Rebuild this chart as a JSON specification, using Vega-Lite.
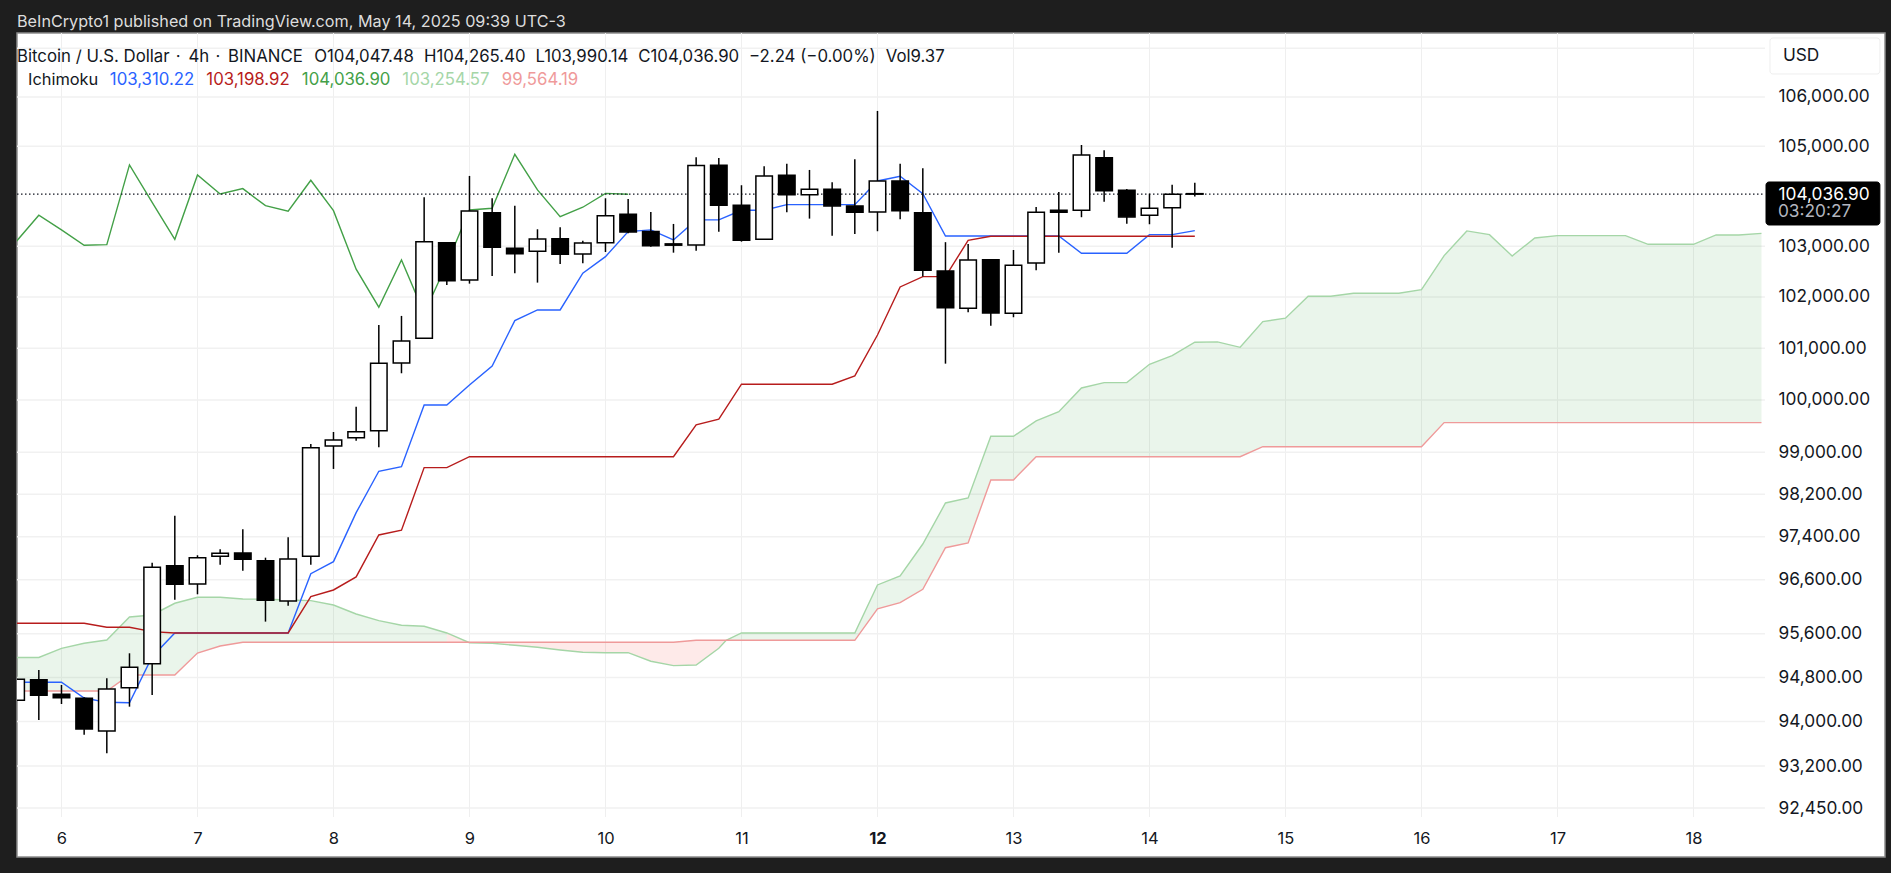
{
"$schema":"https://vega.github.io/schema/vega-lite/v6.json",
"width":1868,"height":824,
"autosize":"none",
"padding":{"left":17,"top":33,"right":6,"bottom":16},
"background":"#1e1e1e",
"title":{"text":"BeInCrypto1 published on TradingView.com, May 14, 2025 09:39 UTC-3","subtitle":"\u2003Bitcoin / U.S. Dollar\u200a · \u200a\u200a4h\u200a · \u200a\u200aBINANCE\u2002\u200a\u200aO104,047.48\u2002\u200aH104,265.40\u2002\u200aL103,990.14\u2002\u200aC104,036.90\u2002\u200a−2.24 (−0.00%)\u2002\u200aVol9.37","anchor":"start","frame":"group","font":"Inter","subtitleFont":"Inter","fontSize":16.2,"subtitleFontSize":16.8,"fontWeight":"normal","color":"#dddddd","subtitleColor":"#131722","offset":-33,"subtitlePadding":19},
"config":{"view":{"fill":"#ffffff","stroke":"#8c8c8c","strokeWidth":1.5},"font":"Inter"},
"datasets":{
"bars":[
{"t":"2025-05-05T16:00Z","o":94385,"h":94790,"l":94370,"c":94768,"tenkan":94713,"kijun":95795,"chikou":103091,"spanA":95166,"spanB":94555},
{"t":"2025-05-05T20:00Z","o":94761,"h":94938,"l":94029,"c":94476,"tenkan":94713,"kijun":95795,"chikou":103616,"spanA":95166,"spanB":94555},
{"t":"2025-05-06T00:00Z","o":94494,"h":94664,"l":94318,"c":94432,"tenkan":94713,"kijun":95795,"chikou":103324,"spanA":95334,"spanB":94555},
{"t":"2025-05-06T04:00Z","o":94421,"h":94440,"l":93764,"c":93866,"tenkan":94427,"kijun":95795,"chikou":103019,"spanA":95426,"spanB":94555},
{"t":"2025-05-06T08:00Z","o":93830,"h":94786,"l":93428,"c":94591,"tenkan":94349,"kijun":95721,"chikou":103031,"spanA":95487,"spanB":94555},
{"t":"2025-05-06T12:00Z","o":94615,"h":95243,"l":94270,"c":94987,"tenkan":94342,"kijun":95721,"chikou":104624,"spanA":95911,"spanB":94847},
{"t":"2025-05-06T16:00Z","o":95053,"h":96918,"l":94481,"c":96832,"tenkan":95181,"kijun":95640,"chikou":103875,"spanA":95948,"spanB":94847},
{"t":"2025-05-06T20:00Z","o":96862,"h":97798,"l":96230,"c":96516,"tenkan":95616,"kijun":95616,"chikou":103138,"spanA":96164,"spanB":94847},
{"t":"2025-05-07T00:00Z","o":96522,"h":97056,"l":96330,"c":97011,"tenkan":95616,"kijun":95616,"chikou":104423,"spanA":96274,"spanB":95248},
{"t":"2025-05-07T04:00Z","o":97037,"h":97167,"l":96881,"c":97093,"tenkan":95616,"kijun":95616,"chikou":104041,"spanA":96274,"spanB":95376},
{"t":"2025-05-07T08:00Z","o":97098,"h":97541,"l":96769,"c":96981,"tenkan":95616,"kijun":95616,"chikou":104148,"spanA":96243,"spanB":95445},
{"t":"2025-05-07T12:00Z","o":96955,"h":97011,"l":95825,"c":96219,"tenkan":95616,"kijun":95616,"chikou":103808,"spanA":96238,"spanB":95445},
{"t":"2025-05-07T16:00Z","o":96206,"h":97394,"l":96120,"c":96987,"tenkan":95616,"kijun":95616,"chikou":103696,"spanA":96225,"spanB":95445},
{"t":"2025-05-07T20:00Z","o":97037,"h":99156,"l":96881,"c":99085,"tenkan":96713,"kijun":96286,"chikou":104316,"spanA":96212,"spanB":95445},
{"t":"2025-05-08T00:00Z","o":99117,"h":99385,"l":98681,"c":99232,"tenkan":96937,"kijun":96410,"chikou":103708,"spanA":96132,"spanB":95445},
{"t":"2025-05-08T04:00Z","o":99276,"h":99870,"l":99218,"c":99391,"tenkan":97855,"kijun":96652,"chikou":102546,"spanA":95966,"spanB":95445},
{"t":"2025-05-08T08:00Z","o":99410,"h":101453,"l":99092,"c":100708,"tenkan":98637,"kijun":97436,"chikou":101799,"spanA":95843,"spanB":95445},
{"t":"2025-05-08T12:00Z","o":100714,"h":101629,"l":100514,"c":101140,"tenkan":98724,"kijun":97524,"chikou":102729,"spanA":95758,"spanB":95445},
{"t":"2025-05-08T16:00Z","o":101193,"h":103975,"l":101193,"c":103091,"tenkan":99903,"kijun":98706,"chikou":101681,"spanA":95740,"spanB":95445},
{"t":"2025-05-08T20:00Z","o":103071,"h":103071,"l":102236,"c":102321,"tenkan":99903,"kijun":98706,"chikou":102650,"spanA":95616,"spanB":95445},
{"t":"2025-05-09T00:00Z","o":102335,"h":104403,"l":102262,"c":103702,"tenkan":100288,"kijun":98914,"chikou":103722,"spanA":95437,"spanB":95445},
{"t":"2025-05-09T04:00Z","o":103668,"h":103955,"l":102414,"c":102979,"tenkan":100655,"kijun":98914,"chikou":103756,"spanA":95426,"spanB":95445},
{"t":"2025-05-09T08:00Z","o":102959,"h":103808,"l":102467,"c":102853,"tenkan":101537,"kijun":98914,"chikou":104838,"spanA":95390,"spanB":95445},
{"t":"2025-05-09T12:00Z","o":102900,"h":103337,"l":102282,"c":103144,"tenkan":101746,"kijun":98914,"chikou":104122,"spanA":95353,"spanB":95445},
{"t":"2025-05-09T16:00Z","o":103150,"h":103377,"l":102650,"c":102841,"tenkan":101746,"kijun":98914,"chikou":103589,"spanA":95303,"spanB":95445},
{"t":"2025-05-09T20:00Z","o":102847,"h":103110,"l":102664,"c":103064,"tenkan":102467,"kijun":98914,"chikou":103776,"spanA":95261,"spanB":95445},
{"t":"2025-05-10T00:00Z","o":103070,"h":103955,"l":102886,"c":103608,"tenkan":102794,"kijun":98914,"chikou":104052,"spanA":95254,"spanB":95445},
{"t":"2025-05-10T04:00Z","o":103636,"h":103941,"l":103258,"c":103284,"tenkan":103290,"kijun":98914,"chikou":104036.9,"spanA":95254,"spanB":95445},
{"t":"2025-05-10T08:00Z","o":103294,"h":103682,"l":102991,"c":103008,"tenkan":103324,"kijun":98914,"spanA":95097,"spanB":95445},
{"t":"2025-05-10T12:00Z","o":103047,"h":103443,"l":102873,"c":103021,"tenkan":103125,"kijun":98914,"spanA":95017,"spanB":95445},
{"t":"2025-05-10T16:00Z","o":103027,"h":104778,"l":102912,"c":104610,"tenkan":103523,"kijun":99520,"spanA":95029,"spanB":95481},
{"t":"2025-05-10T20:00Z","o":104618,"h":104764,"l":103290,"c":103816,"tenkan":103523,"kijun":99629,"spanA":95335,"spanB":95481},
{"t":"2025-05-10T21:18Z","spanA":95481,"spanB":95481},
{"t":"2025-05-11T00:00Z","o":103816,"h":104216,"l":103091,"c":103118,"tenkan":103716,"kijun":100302,"spanA":95616,"spanB":95481},
{"t":"2025-05-11T04:00Z","o":103138,"h":104597,"l":103138,"c":104403,"tenkan":103716,"kijun":100302,"spanA":95616,"spanB":95481},
{"t":"2025-05-11T08:00Z","o":104417,"h":104650,"l":103676,"c":104027,"tenkan":103828,"kijun":100302,"spanA":95616,"spanB":95481},
{"t":"2025-05-11T12:00Z","o":104027,"h":104523,"l":103549,"c":104136,"tenkan":103828,"kijun":100302,"spanA":95616,"spanB":95481},
{"t":"2025-05-11T16:00Z","o":104136,"h":104276,"l":103210,"c":103802,"tenkan":103828,"kijun":100302,"spanA":95616,"spanB":95481},
{"t":"2025-05-11T20:00Z","o":103802,"h":104738,"l":103244,"c":103676,"tenkan":103828,"kijun":100463,"spanA":95616,"spanB":95481},
{"t":"2025-05-12T00:00Z","o":103682,"h":105716,"l":103298,"c":104302,"tenkan":104302,"kijun":101257,"spanA":96503,"spanB":96059},
{"t":"2025-05-12T04:00Z","o":104302,"h":104650,"l":103537,"c":103708,"tenkan":104397,"kijun":102197,"spanA":96671,"spanB":96175},
{"t":"2025-05-12T08:00Z","o":103668,"h":104557,"l":102400,"c":102526,"tenkan":104047,"kijun":102400,"spanA":97266,"spanB":96423},
{"t":"2025-05-12T12:00Z","o":102512,"h":103081,"l":100700,"c":101791,"tenkan":103204,"kijun":102400,"spanA":98037,"spanB":97197},
{"t":"2025-05-12T16:00Z","o":101779,"h":103047,"l":101701,"c":102729,"tenkan":103204,"kijun":103118,"spanA":98131,"spanB":97285},
{"t":"2025-05-12T20:00Z","o":102735,"h":102735,"l":101439,"c":101687,"tenkan":103204,"kijun":103199,"spanA":99303,"spanB":98472},
{"t":"2025-05-13T00:00Z","o":101681,"h":102926,"l":101603,"c":102624,"tenkan":103204,"kijun":103199,"spanA":99303,"spanB":98472},
{"t":"2025-05-13T04:00Z","o":102670,"h":103782,"l":102526,"c":103676,"tenkan":103204,"kijun":103199,"spanA":99596,"spanB":98914},
{"t":"2025-05-13T08:00Z","o":103716,"h":104079,"l":102873,"c":103676,"tenkan":103204,"kijun":103199,"spanA":99774,"spanB":98914},
{"t":"2025-05-13T12:00Z","o":103716,"h":105026,"l":103577,"c":104824,"tenkan":102861,"kijun":103199,"spanA":100230,"spanB":98914},
{"t":"2025-05-13T16:00Z","o":104770,"h":104919,"l":103887,"c":104108,"tenkan":102861,"kijun":103199,"spanA":100333,"spanB":98914},
{"t":"2025-05-13T20:00Z","o":104116,"h":104142,"l":103449,"c":103583,"tenkan":102861,"kijun":103199,"spanA":100333,"spanB":98914},
{"t":"2025-05-14T00:00Z","o":103616,"h":104047,"l":103437,"c":103756,"tenkan":103230,"kijun":103199,"spanA":100688,"spanB":98914},
{"t":"2025-05-14T04:00Z","o":103768,"h":104228,"l":102971,"c":104035,"tenkan":103230,"kijun":103199,"spanA":100855,"spanB":98914},
{"t":"2025-05-14T08:00Z","o":104047.48,"h":104265.4,"l":103990.14,"c":104036.9,"tenkan":103310.22,"kijun":103198.92,"spanA":101116,"spanB":98914},
{"t":"2025-05-14T12:00Z","spanA":101122,"spanB":98914},
{"t":"2025-05-14T16:00Z","spanA":101017,"spanB":98914},
{"t":"2025-05-14T20:00Z","spanA":101517,"spanB":99104},
{"t":"2025-05-15T00:00Z","spanA":101584,"spanB":99104},
{"t":"2025-05-15T04:00Z","spanA":102014,"spanB":99104},
{"t":"2025-05-15T08:00Z","spanA":102014,"spanB":99104},
{"t":"2025-05-15T12:00Z","spanA":102073,"spanB":99104},
{"t":"2025-05-15T16:00Z","spanA":102073,"spanB":99104},
{"t":"2025-05-15T20:00Z","spanA":102073,"spanB":99104},
{"t":"2025-05-16T00:00Z","spanA":102144,"spanB":99104},
{"t":"2025-05-16T04:00Z","spanA":102814,"spanB":99564},
{"t":"2025-05-16T08:00Z","spanA":103304,"spanB":99564},
{"t":"2025-05-16T12:00Z","spanA":103230,"spanB":99564},
{"t":"2025-05-16T16:00Z","spanA":102808,"spanB":99564},
{"t":"2025-05-16T20:00Z","spanA":103164,"spanB":99564},
{"t":"2025-05-17T00:00Z","spanA":103210,"spanB":99564},
{"t":"2025-05-17T04:00Z","spanA":103210,"spanB":99564},
{"t":"2025-05-17T08:00Z","spanA":103210,"spanB":99564},
{"t":"2025-05-17T12:00Z","spanA":103210,"spanB":99564},
{"t":"2025-05-17T16:00Z","spanA":103039,"spanB":99564},
{"t":"2025-05-17T20:00Z","spanA":103039,"spanB":99564},
{"t":"2025-05-18T00:00Z","spanA":103039,"spanB":99564},
{"t":"2025-05-18T04:00Z","spanA":103224,"spanB":99564},
{"t":"2025-05-18T08:00Z","spanA":103224,"spanB":99564},
{"t":"2025-05-18T12:00Z","spanA":103254.57,"spanB":99564.19}
],
"days":[{"t":"2025-05-06T00:00Z"},{"t":"2025-05-07T00:00Z"},{"t":"2025-05-08T00:00Z"},{"t":"2025-05-09T00:00Z"},{"t":"2025-05-10T00:00Z"},{"t":"2025-05-11T00:00Z"},{"t":"2025-05-12T00:00Z"},{"t":"2025-05-13T00:00Z"},{"t":"2025-05-14T00:00Z"},{"t":"2025-05-15T00:00Z"},{"t":"2025-05-16T00:00Z"},{"t":"2025-05-17T00:00Z"},{"t":"2025-05-18T00:00Z"}],
"levels":[
{"price":107000,"t":"2025-05-05T16:09Z","t2":"2025-05-18T12:37Z"},
{"price":106000,"t":"2025-05-05T16:09Z","t2":"2025-05-18T12:37Z"},
{"price":105000,"t":"2025-05-05T16:09Z","t2":"2025-05-18T12:37Z"},
{"price":103000,"t":"2025-05-05T16:09Z","t2":"2025-05-18T12:37Z"},
{"price":102000,"t":"2025-05-05T16:09Z","t2":"2025-05-18T12:37Z"},
{"price":101000,"t":"2025-05-05T16:09Z","t2":"2025-05-18T12:37Z"},
{"price":100000,"t":"2025-05-05T16:09Z","t2":"2025-05-18T12:37Z"},
{"price":99000,"t":"2025-05-05T16:09Z","t2":"2025-05-18T12:37Z"},
{"price":98200,"t":"2025-05-05T16:09Z","t2":"2025-05-18T12:37Z"},
{"price":97400,"t":"2025-05-05T16:09Z","t2":"2025-05-18T12:37Z"},
{"price":96600,"t":"2025-05-05T16:09Z","t2":"2025-05-18T12:37Z"},
{"price":95600,"t":"2025-05-05T16:09Z","t2":"2025-05-18T12:37Z"},
{"price":94800,"t":"2025-05-05T16:09Z","t2":"2025-05-18T12:37Z"},
{"price":94000,"t":"2025-05-05T16:09Z","t2":"2025-05-18T12:37Z"},
{"price":93200,"t":"2025-05-05T16:09Z","t2":"2025-05-18T12:37Z"},
{"price":92450,"t":"2025-05-05T16:09Z","t2":"2025-05-18T12:37Z"}
],
"lastPrice":[{"price":104036.9,"t":"2025-05-05T16:09Z","t2":"2025-05-18T12:37Z"}],
"boxes":[
{"t":"2025-05-18T12:48Z","t2":"2025-05-19T08:54Z","price":104281,"price2":103422,"name":"last"},
{"t":"2025-05-18T13:30Z","t2":"2025-05-19T08:54Z","price":107210,"price2":106470,"name":"currency"}
],
"notes":[
{"t":"2025-05-18T14:54Z","price":103681,"label":"03:20:27","name":"countdown"},
{"t":"2025-05-18T15:47Z","price":106839,"label":"USD","name":"currency"}
]
},
"encoding":{
"x":{"field":"t","type":"temporal","title":null,
"scale":{"type":"utc","padding":0,"domain":[{"year":2025,"month":5,"date":5,"hours":16,"minutes":9,"utc":true},{"year":2025,"month":5,"date":19,"hours":9,"minutes":48,"utc":true}]},
"axis":{"orient":"bottom","offset":-27,"values":[{"year":2025,"month":5,"date":6,"utc":true},{"year":2025,"month":5,"date":7,"utc":true},{"year":2025,"month":5,"date":8,"utc":true},{"year":2025,"month":5,"date":9,"utc":true},{"year":2025,"month":5,"date":10,"utc":true},{"year":2025,"month":5,"date":11,"utc":true},{"year":2025,"month":5,"date":12,"utc":true},{"year":2025,"month":5,"date":13,"utc":true},{"year":2025,"month":5,"date":14,"utc":true},{"year":2025,"month":5,"date":15,"utc":true},{"year":2025,"month":5,"date":16,"utc":true},{"year":2025,"month":5,"date":17,"utc":true},{"year":2025,"month":5,"date":18,"utc":true}],"labelExpr":"''+utcdate(datum.value)","grid":false,"ticks":false,"domain":false,"labelPadding":0,"labelFontSize":16.5,"labelColor":"#131722","labelBaseline":"top","labelFlush":false,"labelOverlap":false,"labelFontWeight":{"expr":"utcdate(datum.value)==12 ? 700 : 400"},"zindex":1}}
},
"layer":[
{"data":{"name":"days"},"mark":{"type":"rule","color":"#efefef","strokeWidth":1},
"encoding":{"y":{"datum":107313,"type":"quantitative"},"y2":{"datum":92290}}},
{"data":{"name":"levels"},"mark":{"type":"rule","color":"#f1f1f1","strokeWidth":1.5},
"encoding":{
"x2":{"field":"t2"},
"y":{"field":"price","type":"quantitative","title":null,
"scale":{"type":"log","domain":[91583,107313],"nice":false},
"axis":{"orient":"right","offset":-107,"values":[106000,105000,104036.9,103000,102000,101000,100000,99000,98200,97400,96600,95600,94800,94000,93200,92450],"format":",.2f","grid":false,"ticks":false,"domain":false,"labelPadding":0,"labelFontSize":17.3,"labelAlign":"left","labelOverlap":false,"labelFlush":false,"labelColor":{"expr":"datum.value==104036.9 ? '#ffffff' : '#131722'"},"zindex":1}}}},
{"data":{"name":"bars"},"transform":[{"filter":"time(datum.t) <= time('2025-05-08T20:00Z')"}],"mark":{"type":"area","color":"#43a047","opacity":0.11,"clip":true},
"encoding":{"y":{"field":"spanA","type":"quantitative"},"y2":{"field":"spanB"}}},
{"data":{"name":"bars"},"transform":[{"filter":"time(datum.t) >= time('2025-05-08T20:00Z') && time(datum.t) <= time('2025-05-10T21:18Z')"}],"mark":{"type":"area","color":"#f44336","opacity":0.11,"clip":true},
"encoding":{"y":{"field":"spanA","type":"quantitative"},"y2":{"field":"spanB"}}},
{"data":{"name":"bars"},"transform":[{"filter":"time(datum.t) >= time('2025-05-10T21:18Z')"}],"mark":{"type":"area","color":"#43a047","opacity":0.11,"clip":true},
"encoding":{"y":{"field":"spanA","type":"quantitative"},"y2":{"field":"spanB"}}},
{"data":{"name":"bars"},"transform":[{"fold":["spanA","spanB","chikou","tenkan","kijun"],"as":["series","value"]},{"filter":"isValid(datum.value)"}],
"mark":{"type":"line","strokeWidth":1.4,"clip":true},
"encoding":{"y":{"field":"value","type":"quantitative"},
"color":{"field":"series","type":"nominal","scale":{"domain":["tenkan","kijun","chikou","spanA","spanB"],"range":["#2962ff","#b71c1c","#43a047","#a5d6a7","#ef9a9a"]},
"legend":{"orient":"none","legendX":11,"legendY":38,"direction":"horizontal","columns":5,"title":"Ichimoku","titleOrient":"left","titleFontSize":16.4,"titleFontWeight":"normal","titleColor":"#131722","titlePadding":11,"labelFontSize":16.8,"symbolSize":1,"symbolOpacity":0,"symbolStrokeWidth":0,"labelOffset":-17,"columnPadding":10.5,"labelExpr":"{tenkan:'103,310.22',kijun:'103,198.92',chikou:'104,036.90',spanA:'103,254.57',spanB:'99,564.19'}[datum.value]","encode":{"labels":{"update":{"fill":{"scale":"color","field":"value"}}}}}}}},
{"data":{"name":"lastPrice"},"mark":{"type":"rule","color":"#131722","strokeWidth":1.3,"strokeDash":[1.5,2.5]},
"encoding":{"x2":{"field":"t2"},"y":{"field":"price","type":"quantitative"}}},
{"data":{"name":"bars"},"transform":[{"filter":"isValid(datum.o)"}],"mark":{"type":"rule","color":"#000000","strokeWidth":1.5,"clip":true},
"encoding":{"y":{"field":"h","type":"quantitative"},"y2":{"field":"l"}}},
{"data":{"name":"bars"},"transform":[{"filter":"isValid(datum.o)"}],"mark":{"type":"bar","size":16.5,"stroke":"#000000","strokeWidth":1.5,"orient":"vertical","clip":true},
"encoding":{"y":{"field":"o","type":"quantitative"},"y2":{"field":"c"},
"fill":{"condition":{"test":"datum.c >= datum.o","value":"#ffffff"},"value":"#000000"}}},
{"data":{"name":"boxes"},"mark":{"type":"rect","cornerRadius":3},
"encoding":{"x2":{"field":"t2"},"y":{"field":"price","type":"quantitative"},"y2":{"field":"price2"},
"fill":{"condition":{"test":"datum.name=='last'","value":"#000000"},"value":"#ffffff"},
"stroke":{"condition":{"test":"datum.name=='last'","value":"#000000"},"value":"#eeeeee"}}},
{"data":{"name":"notes"},"mark":{"type":"text","align":"left","baseline":"middle","fontSize":17.3},
"encoding":{"y":{"field":"price","type":"quantitative"},"text":{"field":"label"},
"color":{"condition":{"test":"datum.name=='countdown'","value":"#b2b5be"},"value":"#131722"}}}
]
}
